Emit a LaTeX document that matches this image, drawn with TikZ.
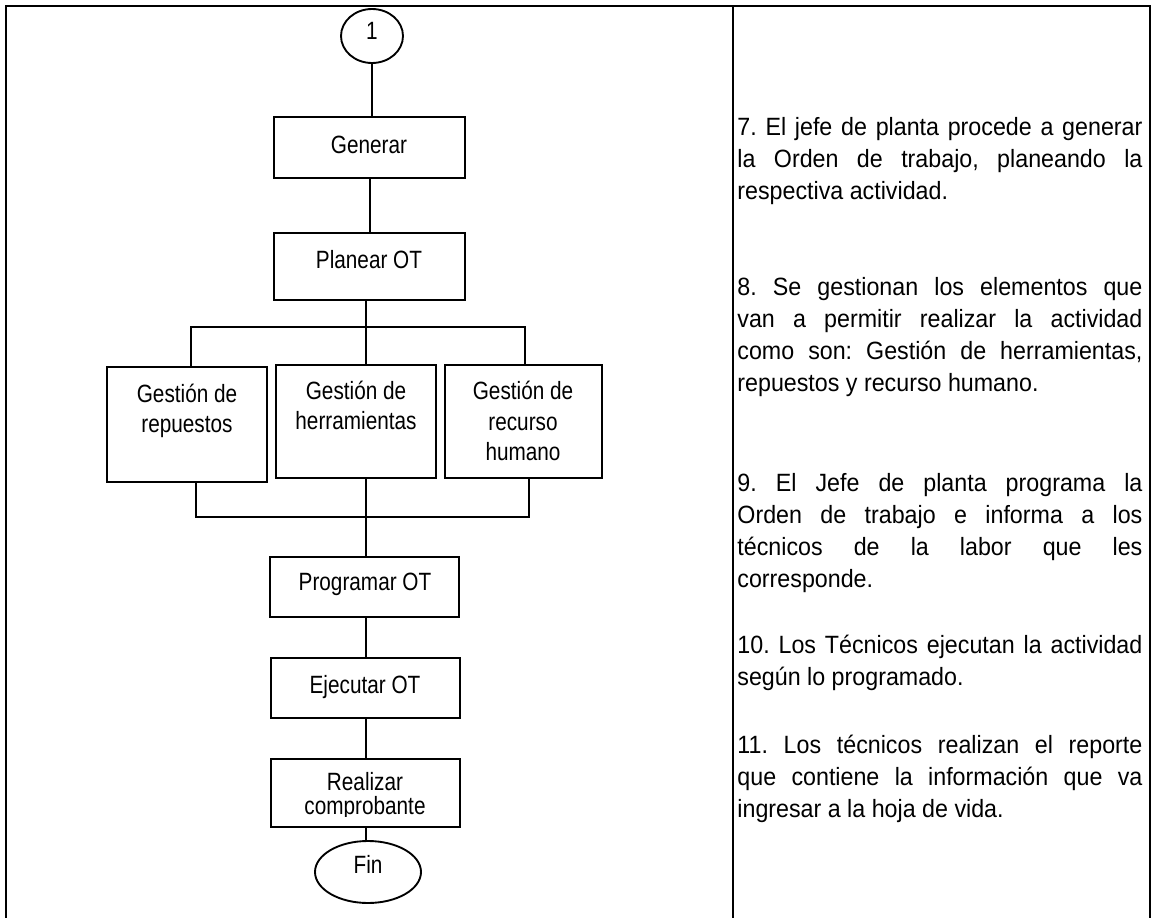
\documentclass[tikz,border=0pt]{standalone}
\usepackage{fontspec}
\setmainfont{Liberation Sans}
\newfontfamily\flowfont[FakeStretch=0.83]{Liberation Sans}
\newfontfamily\parafont[FakeStretch=0.93]{Liberation Sans}
\usetikzlibrary{fit,shapes.geometric}
\tolerance=10000
\hbadness=10000
\frenchspacing
\begin{document}
\begin{tikzpicture}[x=0.48pt,y=-0.48pt,
  frameline/.style={line width=1.3pt},
  link/.style={line width=0.9pt},
  stepbox/.style={draw,line width=0.9pt,rectangle,inner sep=0pt},
  terminal/.style={draw,line width=0.9pt,ellipse,inner sep=0pt},
  flowtxt/.style={inner sep=0pt,anchor=base,font=\flowfont\fontsize{12}{14}\selectfont},
  para/.style={inner sep=0pt,anchor=north west,text width=194.4pt,align=justify,
    font=\parafont\fontsize{12}{15.36}\selectfont\frenchspacing}
]
\useasboundingbox (0,0) rectangle (1153,918);

% table frame: two columns, open at the bottom
\draw[frameline] (6,940) -- (6,6) -- (1150,6) -- (1150,940);
\draw[frameline] (733,6) -- (733,940);

% flowchart shapes
\node[terminal,minimum width=29.76pt,minimum height=25.92pt] (c1) at (372,36) {};
\node[stepbox,fit={(274,117) (465,178)}] (gen) {};
\node[stepbox,fit={(274,233) (465,300)}] (plan) {};
\node[stepbox,fit={(107,367) (267,482)}] (b1) {};
\node[stepbox,fit={(276,365) (436,478)}] (b2) {};
\node[stepbox,fit={(445,365) (602,478)}] (b3) {};
\node[stepbox,fit={(270,557) (459,617)}] (prog) {};
\node[stepbox,fit={(271,658) (460,718)}] (ejec) {};
\node[stepbox,fit={(271,759) (460,827)}] (real) {};
\node[terminal,minimum width=50.88pt,minimum height=29.76pt] (fin) at (368,872) {};

% labels
\node[flowtxt] (c1t) at (372,40) {1};
\node[flowtxt] (gent) at (369,153) {Generar};
\node[flowtxt] (plant) at (369,268) {Planear OT};
\node[flowtxt] (b1a) at (187,402) {Gestión de};
\node[flowtxt] (b1b) at (187,432) {repuestos};
\node[flowtxt] (b2a) at (356,399) {Gestión de};
\node[flowtxt] (b2b) at (356,429) {herramientas};
\node[flowtxt] (b3a) at (523,399) {Gestión de};
\node[flowtxt] (b3b) at (523,430) {recurso};
\node[flowtxt] (b3c) at (523,460) {humano};
\node[flowtxt] (progt) at (365,590) {Programar OT};
\node[flowtxt] (eject) at (365,693) {Ejecutar OT};
\node[flowtxt] (reala) at (365,790) {Realizar};
% the text frame of this box cuts off the descenders of its last line
\begin{scope}
  \clip (271,759) rectangle (460,816);
  \node[flowtxt] (realb) at (365,814) {comprobante};
\end{scope}
\node[flowtxt] (fint) at (368,873) {Fin};

% branch and merge points
\coordinate (split) at (366,327);
\coordinate (sL) at (191,327);
\coordinate (sR) at (525,327);
\coordinate (join) at (366,517);
\coordinate (jL) at (196,517);
\coordinate (jR) at (529,517);

% connectors
\draw[link] (c1.south) -- (c1.south |- gen.north);
\draw[link] (gen.south -| 370,0) -- (plan.north -| 370,0);
\draw[link] (plan.south -| split) -- (b2.north -| split);
\draw[link] (b1.north -| sL) -- (sL) -- (sR) -- (b3.north -| sR);
\draw[link] (b1.south -| jL) -- (jL) -- (jR) -- (b3.south -| jR);
\draw[link] (b2.south -| join) -- (prog.north -| join);
\draw[link] (prog.south -| join) -- (ejec.north -| join);
\draw[link] (ejec.south -| join) -- (real.north -| join);
\draw[link] (real.south -| join) -- (fin.north -| join);

% description column (node top = first baseline - strut height)
\node[para] (p7) at (737,112.6) {\strut 7. El jefe de planta procede a generar\linebreak la Orden de trabajo, planeando la\linebreak respectiva actividad.};
\node[para] (p8) at (737,272.6) {\strut 8. Se gestionan los elementos que\linebreak van a permitir realizar la actividad\linebreak como son: Gestión de herramientas,\linebreak repuestos y recurso humano.};
\node[para] (p9) at (737,468.6) {\strut 9. El Jefe de planta programa la\linebreak Orden de trabajo e informa a los\linebreak técnicos de la labor que les\linebreak corresponde.};
\node[para] (p10) at (737,630.6) {\strut 10. Los Técnicos ejecutan la actividad\linebreak según lo programado.};
\node[para] (p11) at (737,730.6) {\strut 11. Los técnicos realizan el reporte\linebreak que contiene la información que va\linebreak ingresar a la hoja de vida.};
\end{tikzpicture}
\end{document}
